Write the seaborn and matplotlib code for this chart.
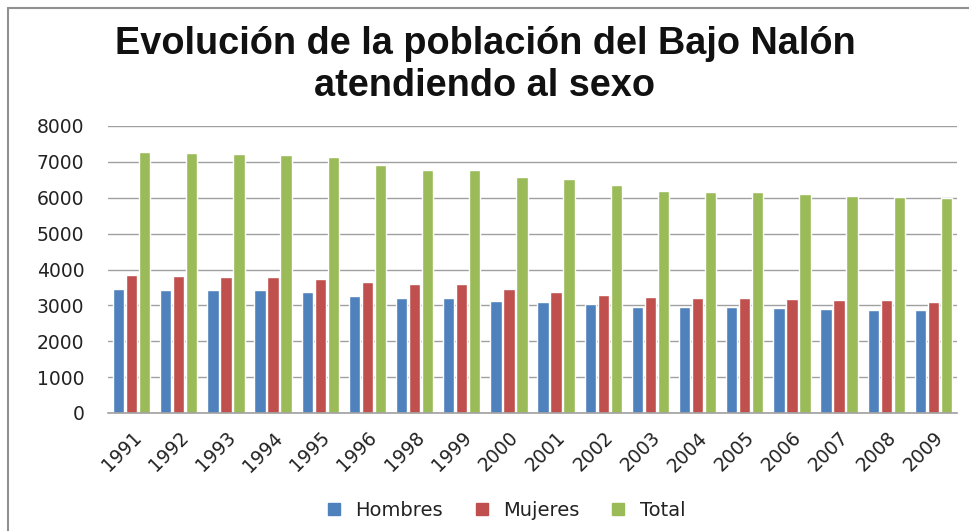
import pandas as pd
import numpy as np
import matplotlib
matplotlib.use('Agg')
import matplotlib.pyplot as plt
import seaborn as sns
from matplotlib.lines import Line2D

# ── Data ─────────────────────────────────────
years = ['1991', '1992', '1993', '1994', '1995', '1996', '1998', '1999', '2000',
         '2001', '2002', '2003', '2004', '2005', '2006', '2007', '2008', '2009']
hombres = [3455, 3428, 3426, 3426, 3370, 3270, 3213, 3213, 3110,
           3092, 3045, 2962, 2962, 2962, 2934, 2906, 2878, 2878]
mujeres = [3845, 3816, 3788, 3788, 3733, 3658, 3584, 3584, 3454,
           3370, 3296, 3240, 3213, 3213, 3185, 3138, 3138, 3101]
total = [7280, 7252, 7224, 7196, 7122, 6917, 6787, 6769, 6583,
         6509, 6351, 6193, 6165, 6147, 6110, 6045, 6017, 5989]
series = ['Hombres', 'Mujeres', 'Total']
colors = ['#4F81BD', '#C0504D', '#9BBB59']

df = pd.DataFrame({'year': years, 'Hombres': hombres,
                   'Mujeres': mujeres, 'Total': total})
long_df = df.melt(id_vars='year', value_vars=series,
                  var_name='serie', value_name='valor')

sns.set_theme(style='white')
plt.rcParams['font.family'] = ['DejaVu Sans']

fig = plt.figure(figsize=(9.7, 5.31), dpi=100)
ax = fig.add_axes([108 / 970, 1 - 413 / 531, 849 / 970, 287 / 531])

sns.barplot(data=long_df, x='year', y='valor', hue='serie',
            palette=colors, width=0.83, gap=0.13, ax=ax,
            saturation=1, legend=False)

ax.set_ylim(0, 8000)
ax.set_xlim(-0.5, len(years) - 0.5)
ax.set_yticks(range(0, 8001, 1000))
ax.yaxis.grid(True, color='#a0a0a0', linewidth=1)
ax.set_axisbelow(True)
for s in ['left', 'right', 'top']:
    ax.spines[s].set_visible(False)
ax.spines['bottom'].set_color('#a0a0a0')
ax.spines['bottom'].set_linewidth(1.2)
ax.set_xlabel('')
ax.set_ylabel('')
ax.tick_params(axis='y', length=0, pad=17, labelsize=13.5, labelcolor='#222222')
ax.tick_params(axis='x', length=0, pad=11, labelsize=13.5, labelcolor='#222222')
plt.setp(ax.get_xticklabels(), rotation=45, ha='right',
         rotation_mode='anchor')

# title (Excel style, bold, two lines)
fig.text(0.5, 1 - 65 / 531,
         'Evolución de la población del Bajo Nalón\natendiendo al sexo',
         ha='center', va='center', fontsize=27.3, fontweight='bold',
         family=['Liberation Sans', 'DejaVu Sans'], color='#111111',
         linespacing=1.2)

handles = [Line2D([0], [0], marker='s', linestyle='', markersize=8,
                  markerfacecolor=c, markeredgecolor=c) for c in colors]
fig.legend(handles, series, loc='center', bbox_to_anchor=(500 / 970, 1 - 510 / 531),
           ncol=3, frameon=False, fontsize=14,
           handletextpad=0.1, columnspacing=1.0, labelcolor='#222222')

# outer chart frame (left and top edges visible)
fig.add_artist(Line2D([8 / 970, 8 / 970], [0, 1 - 8 / 531], color='#909090',
                      linewidth=1.5, transform=fig.transFigure))
fig.add_artist(Line2D([8 / 970, 1], [1 - 8 / 531, 1 - 8 / 531], color='#909090',
                      linewidth=1.5, transform=fig.transFigure))

plt.savefig('out.png', dpi=100)
plt.close()
